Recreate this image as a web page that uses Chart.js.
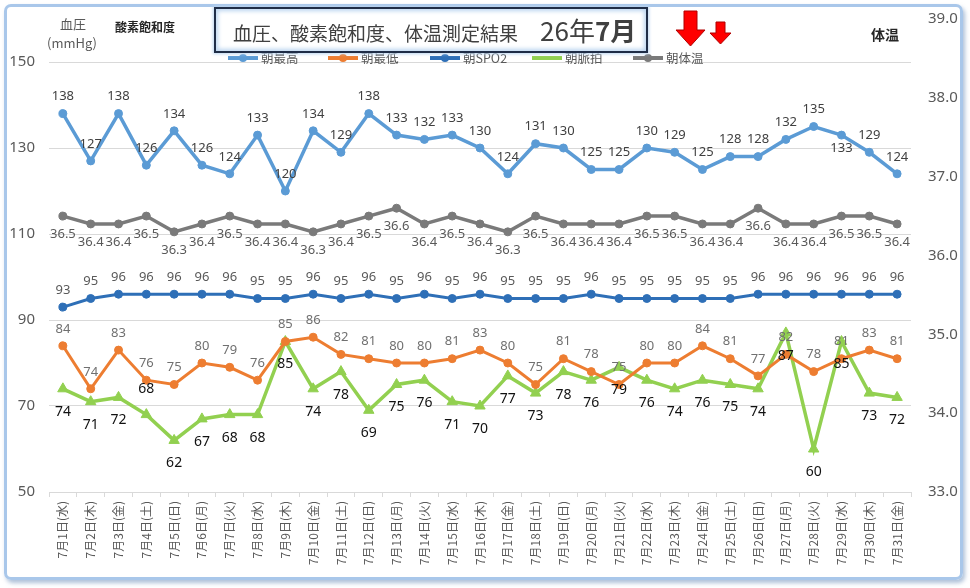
<!DOCTYPE html>
<html>
<head>
<meta charset="utf-8">
<title>血圧、酸素飽和度、体温測定結果</title>
<script src="https://cdn.jsdelivr.net/npm/chart.js"></script>
<style>
    body {
        margin: 0;
        padding: 0;
        background: #fff;
        font-family: 'Noto Sans CJK JP', 'Noto Sans', sans-serif;
    }
    #wrap {
        position: relative;
        width: 970px;
        height: 588px;
        overflow: hidden;
    }
    #frame {
        position: absolute;
        left: 4px;
        top: 4px;
        width: 953px;
        height: 570px;
        border: 3px solid #a9c7ea;
        border-radius: 7px;
        box-shadow: 2px 3px 4px rgba(120, 150, 190, 0.6);
    }
    #myChart {
        position: absolute;
        left: 0;
        top: 0;
    }
    .txt {
        position: absolute;
        color: #595959;
        white-space: nowrap;
    }
    #titleBox {
        position: absolute;
        left: 214px;
        top: 7px;
        width: 413px;
        height: 42px;
        border: 2px solid #1f2d47;
        background: #fff;
        box-shadow: inset 0 0 4px 2px #bcd5f0, 0 0 3px 1px #bcd5f0;
        color: #404040;
        font-size: 19px;
        line-height: 42px;
        padding-left: 17px;
        box-sizing: content-box;
        z-index: 5;
        white-space: nowrap;
    }
    #titleBox .big {
        font-size: 26px;
        margin-left: 22px;
    }
    #legend {
        position: absolute;
        top: 50px;
        left: 0;
        z-index: 2;
    }
    .item {
        position: absolute;
        top: 0;
        height: 16px;
        font-size: 12.5px;
        line-height: 16px;
        color: #595959;
        white-space: nowrap;
    }
    .mark {
        display: inline-block;
        position: relative;
        width: 30px;
        height: 16px;
        vertical-align: top;
        margin-right: 3px;
    }
    .mark i {
        position: absolute;
        left: 0;
        top: 6px;
        width: 30px;
        height: 3.5px;
    }
    .mark b {
        position: absolute;
        left: 11px;
        top: 4px;
        width: 8px;
        height: 8px;
        border-radius: 50%;
    }
    #arrows {
        position: absolute;
        left: 672px;
        top: 8px;
        z-index: 6;
    }
</style>
</head>
<body>
<div id="wrap">
    <div id="frame"></div>
    <canvas id="myChart" width="970" height="588"></canvas>

    <div class="txt" style="left:60px; top:14px; font-size:13px;">血圧</div>
    <div class="txt" style="left:47px; top:33px; font-size:13px;">(mmHg)</div>
    <div class="txt" style="left:115px; top:18px; font-size:12px; font-weight:bold; color:#262626;">酸素飽和度</div>
    <div class="txt" style="left:871px; top:24px; font-size:14px; font-weight:bold; color:#262626;">体温</div>

    <div id="legend"></div>

    <div id="titleBox">血圧、酸素飽和度、体温測定結果<span class="big">26年<b>7月</b></span></div>

    <svg id="arrows" width="70" height="42">
        <polygon points="12,3 25,3 25,22 33,22 18.5,38 4,22 12,22" fill="#ff0000" stroke="#b00000" stroke-width="1"/>
        <polygon points="44,14 53,14 53,25 59,25 48.5,36 38,25 44,25" fill="#ff0000" stroke="#b00000" stroke-width="1"/>
    </svg>
</div>

<script>
    // 7月の測定データ
    const days = ['7月1日(水)', '7月2日(木)', '7月3日(金)', '7月4日(土)', '7月5日(日)', '7月6日(月)', '7月7日(火)',
        '7月8日(水)', '7月9日(木)', '7月10日(金)', '7月11日(土)', '7月12日(日)', '7月13日(月)', '7月14日(火)',
        '7月15日(水)', '7月16日(木)', '7月17日(金)', '7月18日(土)', '7月19日(日)', '7月20日(月)', '7月21日(火)',
        '7月22日(水)', '7月23日(木)', '7月24日(金)', '7月25日(土)', '7月26日(日)', '7月27日(月)', '7月28日(火)',
        '7月29日(水)', '7月30日(木)', '7月31日(金)'];

    const systolic = [138, 127, 138, 126, 134, 126, 124, 133, 120, 134, 129, 138, 133, 132, 133, 130,
        124, 131, 130, 125, 125, 130, 129, 125, 128, 128, 132, 135, 133, 129, 124];
    const diastolic = [84, 74, 83, 76, 75, 80, 79, 76, 85, 86, 82, 81, 80, 80, 81, 83,
        80, 75, 81, 78, 75, 80, 80, 84, 81, 77, 82, 78, 81, 83, 81];
    const spo2 = [93, 95, 96, 96, 96, 96, 96, 95, 95, 96, 95, 96, 95, 96, 95, 96,
        95, 95, 95, 96, 95, 95, 95, 95, 95, 96, 96, 96, 96, 96, 96];
    const pulse = [74, 71, 72, 68, 62, 67, 68, 68, 85, 74, 78, 69, 75, 76, 71, 70,
        77, 73, 78, 76, 79, 76, 74, 76, 75, 74, 87, 60, 85, 73, 72];
    const bodyTemp = [36.5, 36.4, 36.4, 36.5, 36.3, 36.4, 36.5, 36.4, 36.4, 36.3, 36.4, 36.5, 36.6, 36.4, 36.5, 36.4,
        36.3, 36.5, 36.4, 36.4, 36.4, 36.5, 36.5, 36.4, 36.4, 36.6, 36.4, 36.4, 36.5, 36.5, 36.4];

    const seriesNames = ['朝最高', '朝最低', '朝SPO2', '朝脈拍', '朝体温'];
    const leftTicks = [50, 70, 90, 110, 130, 150];
    const rightTicks = [33, 34, 35, 36, 37, 38, 39];

    const colors = ['#5b9bd5', '#ed7d31', '#2e6fb7', '#92d050', '#7a7a7a'];
    const legendX = [228, 328, 430, 532, 633];

    // legend (html)
    const legend = document.getElementById('legend');
    seriesNames.forEach((name, i) => {
        const el = document.createElement('div');
        el.className = 'item';
        el.style.left = legendX[i] + 'px';
        el.innerHTML = '<span class="mark"><i style="background:' + colors[i] + '"></i>' +
            (i === 3 ? '' : '<b style="background:' + colors[i] + '"></b>') + '</span>' + name;
        legend.appendChild(el);
    });

    // 値ラベル
    const pointLabels = {
        id: 'pointLabels',
        afterDatasetsDraw(chart, args, opts) {
            const ctx = chart.ctx;
            chart.data.datasets.forEach((ds, i) => {
                const st = opts.styles[i];
                const meta = chart.getDatasetMeta(i);
                ctx.save();
                ctx.font = st.font;
                ctx.fillStyle = st.color;
                ctx.textAlign = 'center';
                ctx.textBaseline = 'middle';
                meta.data.forEach((pt, j) => {
                    let dy = st.dy;
                    if (st.flip && st.flip[j] !== undefined) dy = st.flip[j];
                    const v = ds.data[j];
                    ctx.fillText(st.digits ? v.toFixed(st.digits) : v, pt.x, pt.y + dy);
                });
                ctx.restore();
            });
        }
    };

    const numFont = "'Noto Sans', sans-serif";

    function lineSet(label, data, color, axis, extra) {
        return Object.assign({
            label: label,
            data: data,
            yAxisID: axis,
            borderColor: color,
            backgroundColor: color,
            pointBackgroundColor: color,
            pointBorderColor: color,
            borderWidth: 3.5,
            pointRadius: 4,
            pointBorderWidth: 1,
            tension: 0,
            fill: false
        }, extra || {});
    }

    // y軸の上下余白を消して、プロット範囲を固定する
    function fixWidth(w) {
        return function (scale) {
            scale.width = w;
            scale.paddingTop = 0;
            scale.paddingBottom = 0;
        };
    }

    new Chart(document.getElementById('myChart'), {
        type: 'line',
        data: {
            labels: days,
            datasets: [
                lineSet(seriesNames[0], systolic, colors[0], 'y'),
                lineSet(seriesNames[1], diastolic, colors[1], 'y', { borderWidth: 3 }),
                lineSet(seriesNames[2], spo2, colors[2], 'y', { borderWidth: 3 }),
                lineSet(seriesNames[3], pulse, colors[3], 'y', { pointStyle: 'triangle', pointRadius: 6 }),
                lineSet(seriesNames[4], bodyTemp, colors[4], 'y2')
            ]
        },
        options: {
            responsive: false,
            animation: false,
            layout: { padding: { top: 19, left: 0, right: 0, bottom: 0 } },
            plugins: {
                legend: { display: false },
                tooltip: { enabled: false },
                pointLabels: {
                    styles: [
                        { font: '13px ' + numFont, color: '#404040', dy: -17, flip: { 28: 13 } },
                        { font: '13px ' + numFont, color: '#707070', dy: -17 },
                        { font: '13px ' + numFont, color: '#595959', dy: -17 },
                        { font: '14px ' + numFont, color: '#111111', dy: 23, flip: { 3: -26 } },
                        { font: '13px ' + numFont, color: '#595959', dy: 18, digits: 1 }
                    ]
                }
            },
            scales: {
                x: {
                    offset: true,
                    grid: {
                        offset: true,
                        drawOnChartArea: false,
                        drawTicks: true,
                        tickLength: 5,
                        color: '#d9d9d9'
                    },
                    border: { color: '#d9d9d9' },
                    ticks: {
                        autoSkip: false,
                        minRotation: 90,
                        maxRotation: 90,
                        padding: 4,
                        color: '#595959',
                        font: { family: "'Noto Sans CJK JP'", size: 12 }
                    },
                    afterFit(scale) { scale.height = 96; }
                },
                y: {
                    position: 'left',
                    min: 50,
                    max: 160,
                    afterBuildTicks(scale) { scale.ticks = leftTicks.map(v => ({ value: v })); },
                    grid: { color: '#d9d9d9', drawTicks: false, lineWidth: 1 },
                    border: { display: false },
                    ticks: {
                        padding: 14,
                        color: '#595959',
                        font: { family: numFont, size: 15 }
                    },
                    afterFit: fixWidth(49)
                },
                y2: {
                    position: 'right',
                    min: 33,
                    max: 39,
                    afterBuildTicks(scale) { scale.ticks = rightTicks.map(v => ({ value: v })); },
                    grid: { display: false, drawTicks: false },
                    border: { display: false },
                    ticks: {
                        padding: 17,
                        color: '#595959',
                        font: { family: numFont, size: 15 },
                        callback: v => Number(v).toFixed(1)
                    },
                    afterFit: fixWidth(59)
                }
            }
        },
        plugins: [pointLabels]
    });
</script>
</body>
</html>
